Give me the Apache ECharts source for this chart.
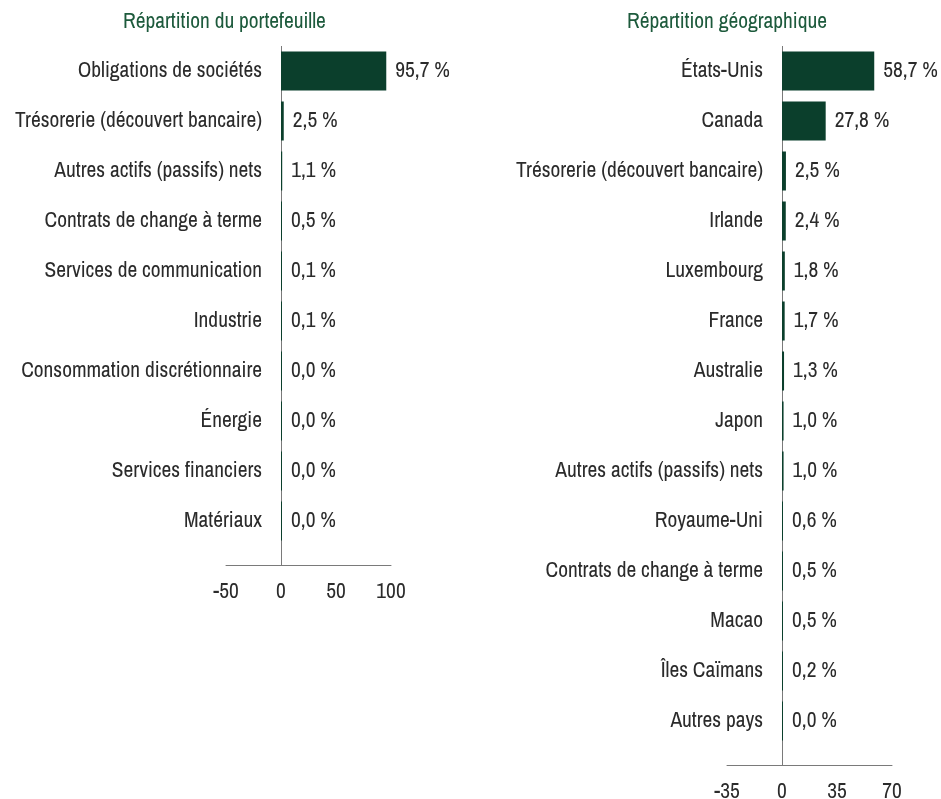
<!DOCTYPE html>
<html>
<head>
<meta charset="utf-8">
<script src="https://cdn.jsdelivr.net/npm/echarts@6/dist/echarts.min.js"></script>
<style>
html,body{margin:0;padding:0;background:#fff;}
#chart{width:941px;height:799px;}
</style>
</head>
<body>
<div id="chart"></div>
<script>
// ---- Data ----
var leftTitle = 'Répartition du portefeuille';
var leftCategories = ['Obligations de sociétés','Trésorerie (découvert bancaire)','Autres actifs (passifs) nets','Contrats de change à terme','Services de communication','Industrie','Consommation discrétionnaire','Énergie','Services financiers','Matériaux'];
var leftValues = [95.7, 2.5, 1.1, 0.5, 0.1, 0.1, 0.0, 0.0, 0.0, 0.0];
var leftTicks = {min: -50, max: 100, interval: 50};

var rightTitle = 'Répartition géographique';
var rightCategories = ['États-Unis','Canada','Trésorerie (découvert bancaire)','Irlande','Luxembourg','France','Australie','Japon','Autres actifs (passifs) nets','Royaume-Uni','Contrats de change à terme','Macao','Îles Caïmans','Autres pays'];
var rightValues = [58.7, 27.8, 2.5, 2.4, 1.8, 1.7, 1.3, 1.0, 1.0, 0.6, 0.5, 0.5, 0.2, 0.0];
var rightTicks = {min: -35, max: 70, interval: 35};

// ---- Styling / layout ----
var FONT = "'Archivo Narrow','Roboto Condensed',sans-serif";
var FS = 21.4;
var TEXT = '#2b2b2b';
var GREEN = '#0b3f2c';
var TITLE_GREEN = '#1d5a3c';
var AXIS = '#7a7a7a';
var OFFSET = 19;
var LABEL_GAP = 19;
var grids = [
  {left: 226, top: 46, width: 165, height: 500},
  {left: 727, top: 46, width: 165, height: 700}
];
var ticksList = [leftTicks, rightTicks];

function fmt(v){ return v.toFixed(1).replace('.', ',') + ' %'; }
// pixel distance between grid left edge and the zero value
function zeroOffset(i){
  var t = ticksList[i];
  return grids[i].width * (0 - t.min) / (t.max - t.min);
}

function xAxisFor(i, t){
  return {
    type: 'value', gridIndex: i, min: t.min, max: t.max, interval: t.interval,
    position: 'bottom', offset: OFFSET,
    axisLine: {show: true, onZero: false, lineStyle: {color: AXIS, width: 1}},
    axisTick: {show: false},
    splitLine: {show: false},
    axisLabel: {color: TEXT, fontFamily: FONT, fontSize: FS, margin: 17, hideOverlap: false}
  };
}
function yAxisFor(i, cats){
  return {
    type: 'category', gridIndex: i, data: cats, inverse: true,
    axisLine: {show: false},
    axisTick: {show: false},
    axisLabel: {color: TEXT, fontFamily: FONT, fontSize: FS,
                margin: LABEL_GAP - zeroOffset(i), interval: 0}
  };
}
function seriesFor(i, vals){
  return {
    type: 'bar', xAxisIndex: i, yAxisIndex: i, data: vals,
    barWidth: 39, barMinHeight: 1,
    itemStyle: {color: GREEN},
    label: {show: true, position: 'right', distance: 9, color: TEXT,
            fontFamily: FONT, fontSize: FS, formatter: function(p){ return fmt(p.value); }},
    silent: true, animation: false, z: 3
  };
}

var chart = echarts.init(document.getElementById('chart'), null, {renderer: 'canvas'});
var option = {
  backgroundColor: '#ffffff',
  animation: false,
  title: [
    {text: leftTitle, left: 123, top: 11, padding: 0,
     textStyle: {color: TITLE_GREEN, fontFamily: FONT, fontSize: FS, fontWeight: 'normal', lineHeight: 22}},
    {text: rightTitle, left: 627, top: 11, padding: 0,
     textStyle: {color: TITLE_GREEN, fontFamily: FONT, fontSize: FS, fontWeight: 'normal', lineHeight: 22}}
  ],
  grid: grids.map(function(g){ return Object.assign({containLabel: false, outerBoundsMode: 'none'}, g); }),
  xAxis: [xAxisFor(0, leftTicks), xAxisFor(1, rightTicks)],
  yAxis: [yAxisFor(0, leftCategories), yAxisFor(1, rightCategories)],
  series: [seriesFor(0, leftValues), seriesFor(1, rightValues)]
};
chart.setOption(option);

// Zero reference lines spanning from grid top down to the (offset) x axis line
var zeroLines = grids.map(function(g, i){
  var x = chart.convertToPixel({xAxisIndex: i}, 0);
  x = Math.round(x) + 0.5;
  return {
    type: 'line', z: 1, silent: true,
    shape: {x1: x, y1: g.top, x2: x, y2: g.top + g.height + OFFSET},
    style: {stroke: AXIS, lineWidth: 1}
  };
});
chart.setOption({graphic: zeroLines});
</script>
</body>
</html>
